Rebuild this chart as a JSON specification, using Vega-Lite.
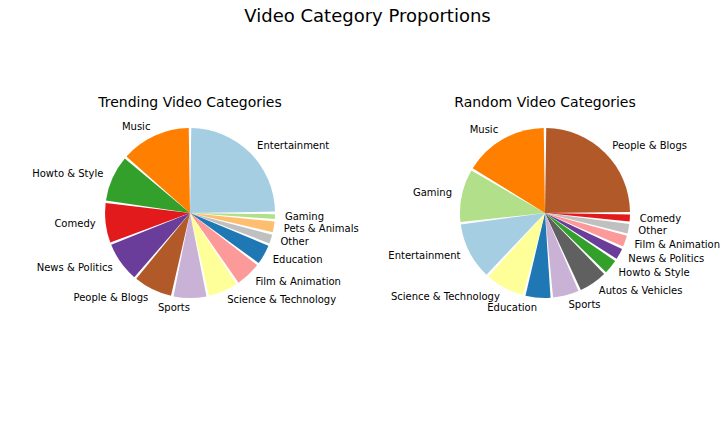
{
  "$schema": "https://vega.github.io/schema/vega-lite/v6.json",
  "title": {"text": "Video Category Proportions", "fontSize": 18, "fontWeight": "normal", "font": "DejaVu Sans", "anchor": "middle", "offset": 70, "color": "#000000"},
  "padding": {"left": 15, "right": 5, "top": 8, "bottom": 5},
  "spacing": 5,
  "datasets": {
    "trending": [
      {"category": "Entertainment", "share": 25.0},
      {"category": "Gaming", "share": 1.4},
      {"category": "Pets & Animals", "share": 2.5},
      {"category": "Other", "share": 2.2},
      {"category": "Education", "share": 4.2},
      {"category": "Film & Animation", "share": 5.3},
      {"category": "Science & Technology", "share": 6.1},
      {"category": "Sports", "share": 6.7},
      {"category": "People & Blogs", "share": 7.8},
      {"category": "News & Politics", "share": 8.0},
      {"category": "Comedy", "share": 8.0},
      {"category": "Howto & Style", "share": 9.2},
      {"category": "Music", "share": 13.7}
    ],
    "random": [
      {"category": "People & Blogs", "share": 25.0},
      {"category": "Comedy", "share": 1.8},
      {"category": "Other", "share": 2.25},
      {"category": "Film & Animation", "share": 2.6},
      {"category": "News & Politics", "share": 2.6},
      {"category": "Howto & Style", "share": 3.2},
      {"category": "Autos & Vehicles", "share": 5.8},
      {"category": "Sports", "share": 5.4},
      {"category": "Education", "share": 5.2},
      {"category": "Science & Technology", "share": 7.9},
      {"category": "Entertainment", "share": 11.2},
      {"category": "Gaming", "share": 10.5},
      {"category": "Music", "share": 16.4}
    ]
  },
  "hconcat": [
    {
      "width": 350,
      "height": 200,
      "title": {"text": "Trending Video Categories", "fontSize": 14, "fontWeight": "normal", "font": "DejaVu Sans", "offset": 3, "color": "#000000"},
      "data": {"name": "trending"},
      "transform": [
        {"window": [{"op": "row_number", "as": "i"}, {"op": "sum", "field": "share", "as": "cum"}], "frame": [null, 0]},
        {"joinaggregate": [{"op": "sum", "field": "share", "as": "total"}]},
        {"calculate": "datum.cum - datum.share / 2", "as": "mid"}
      ],
      "layer": [
        {
          "mark": {"type": "arc", "radius": 85, "padAngle": 0.03},
          "encoding": {
            "theta": {"field": "share", "type": "quantitative", "stack": true},
            "order": {"field": "i", "type": "quantitative"},
            "color": {
              "field": "category", "type": "nominal", "legend": null,
              "scale": {
                "domain": ["Entertainment", "Education", "Gaming", "Howto & Style", "Film & Animation", "Comedy", "Pets & Animals", "Music", "Sports", "News & Politics", "Science & Technology", "People & Blogs", "Other", "Autos & Vehicles"],
                "range": ["#a6cee3", "#1f78b4", "#b2df8a", "#33a02c", "#fb9a99", "#e31a1c", "#fdbf6f", "#ff7f00", "#cab2d6", "#6a3d9a", "#ffff99", "#b15928", "#c0c0c0", "#606060"]
              }
            }
          }
        },
        {
          "transform": [{"filter": "datum.mid < datum.total / 2"}],
          "mark": {"type": "text", "radius": 95, "align": "left", "baseline": "middle", "fontSize": 10, "font": "DejaVu Sans", "color": "#000000"},
          "encoding": {
            "theta": {"field": "mid", "type": "quantitative", "stack": null},
            "text": {"field": "category", "type": "nominal"}
          }
        },
        {
          "transform": [{"filter": "datum.mid >= datum.total / 2"}],
          "mark": {"type": "text", "radius": 95, "align": "right", "baseline": "middle", "fontSize": 10, "font": "DejaVu Sans", "color": "#000000"},
          "encoding": {
            "theta": {"field": "mid", "type": "quantitative", "stack": null},
            "text": {"field": "category", "type": "nominal"}
          }
        }
      ]
    },
    {
      "width": 350,
      "height": 200,
      "title": {"text": "Random Video Categories", "fontSize": 14, "fontWeight": "normal", "font": "DejaVu Sans", "offset": 3, "color": "#000000"},
      "data": {"name": "random"},
      "transform": [
        {"window": [{"op": "row_number", "as": "i"}, {"op": "sum", "field": "share", "as": "cum"}], "frame": [null, 0]},
        {"joinaggregate": [{"op": "sum", "field": "share", "as": "total"}]},
        {"calculate": "datum.cum - datum.share / 2", "as": "mid"}
      ],
      "layer": [
        {
          "mark": {"type": "arc", "radius": 85, "padAngle": 0.03},
          "encoding": {
            "theta": {"field": "share", "type": "quantitative", "stack": true},
            "order": {"field": "i", "type": "quantitative"},
            "color": {
              "field": "category", "type": "nominal", "legend": null,
              "scale": {
                "domain": ["Entertainment", "Education", "Gaming", "Howto & Style", "Film & Animation", "Comedy", "Pets & Animals", "Music", "Sports", "News & Politics", "Science & Technology", "People & Blogs", "Other", "Autos & Vehicles"],
                "range": ["#a6cee3", "#1f78b4", "#b2df8a", "#33a02c", "#fb9a99", "#e31a1c", "#fdbf6f", "#ff7f00", "#cab2d6", "#6a3d9a", "#ffff99", "#b15928", "#c0c0c0", "#606060"]
              }
            }
          }
        },
        {
          "transform": [{"filter": "datum.mid < datum.total / 2"}],
          "mark": {"type": "text", "radius": 95, "align": "left", "baseline": "middle", "fontSize": 10, "font": "DejaVu Sans", "color": "#000000"},
          "encoding": {
            "theta": {"field": "mid", "type": "quantitative", "stack": null},
            "text": {"field": "category", "type": "nominal"}
          }
        },
        {
          "transform": [{"filter": "datum.mid >= datum.total / 2"}],
          "mark": {"type": "text", "radius": 95, "align": "right", "baseline": "middle", "fontSize": 10, "font": "DejaVu Sans", "color": "#000000"},
          "encoding": {
            "theta": {"field": "mid", "type": "quantitative", "stack": null},
            "text": {"field": "category", "type": "nominal"}
          }
        }
      ]
    }
  ],
  "config": {"view": {"stroke": null}, "font": "DejaVu Sans"}
}
